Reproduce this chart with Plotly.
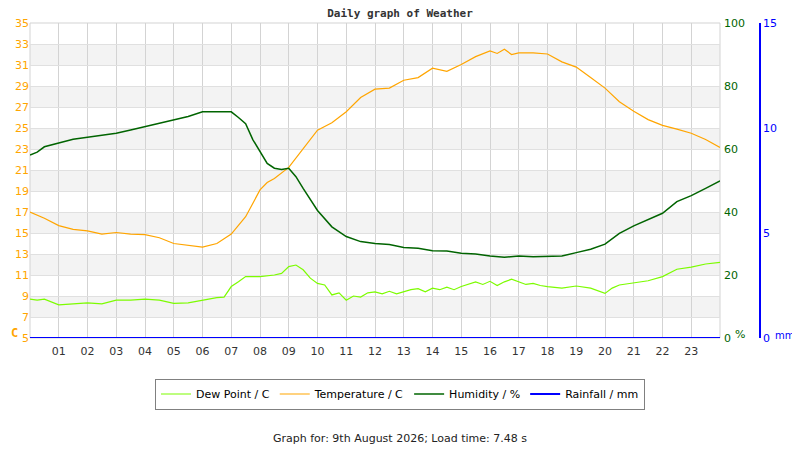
import plotly.graph_objects as go

# ---------------- data ----------------
hour_ticks = list(range(1, 24))
hour_labels = ["%02d" % h for h in hour_ticks]

temp_h = [0, 0.5, 1, 1.5, 2, 2.5, 3, 3.5, 4, 4.5, 5, 5.5, 6, 6.5, 7, 7.5, 8, 8.25, 8.5, 9,
          9.5, 10, 10.5, 11, 11.5, 12, 12.5, 13, 13.5, 14, 14.5, 15, 15.5, 16, 16.25, 16.5, 16.75, 17, 17.5, 18,
          18.5, 19, 19.5, 20, 20.5, 21, 21.5, 22, 22.5, 23, 23.5, 24]
temperature = [17.0, 16.4, 15.7, 15.35, 15.2, 14.9, 15.05, 14.9, 14.85, 14.55, 14.0, 13.8, 13.65, 14.0, 14.9, 16.55, 19.1, 19.8, 20.2, 21.25,
               23.05, 24.8, 25.5, 26.55, 27.9, 28.7, 28.8, 29.55, 29.8, 30.7, 30.4, 31.05, 31.8, 32.35, 32.1, 32.5, 32.0, 32.15, 32.15, 32.05,
               31.3, 30.8, 29.8, 28.8, 27.5, 26.6, 25.8, 25.25, 24.9, 24.5, 23.9, 23.15]

dew_h = [0, 0.25, 0.5, 0.75, 1, 1.5, 2, 2.5, 3, 3.5, 4, 4.5, 5, 5.5, 6, 6.5,
         6.75, 7, 7.25, 7.5, 8, 8.5, 8.75, 9, 9.25, 9.5, 9.75, 10, 10.25, 10.5, 10.75,
         11, 11.25, 11.5, 11.75, 12, 12.25, 12.5, 12.75, 13, 13.25, 13.5, 13.75, 14, 14.25, 14.5, 14.75,
         15, 15.25, 15.5, 15.75, 16, 16.25, 16.5, 16.75, 17, 17.25, 17.5, 17.75, 18,
         18.5, 19, 19.5, 20, 20.25, 20.5, 21, 21.5, 22, 22.5, 23, 23.5, 24]
dew_point = [8.7, 8.6, 8.7, 8.45, 8.15, 8.25, 8.35, 8.25, 8.6, 8.6, 8.7, 8.6, 8.3, 8.35, 8.6, 8.85,
             8.9, 9.9, 10.35, 10.85, 10.85, 11.0, 11.15, 11.8, 11.95, 11.5, 10.7, 10.2, 10.05, 9.1, 9.3,
             8.6, 9.0, 8.9, 9.3, 9.4, 9.2, 9.45, 9.2, 9.4, 9.6, 9.7, 9.4, 9.75, 9.6, 9.85, 9.6,
             9.9, 10.1, 10.35, 10.1, 10.4, 10.0, 10.35, 10.6, 10.35, 10.1, 10.2, 10.0, 9.9,
             9.75, 9.95, 9.75, 9.25, 9.75, 10.05, 10.25, 10.45, 10.85, 11.55, 11.75, 12.05, 12.2]

hum_h = [0, 0.25, 0.5, 1, 1.5, 2, 2.5, 3, 3.5, 4, 4.5, 5, 5.5, 6, 6.5, 7, 7.25, 7.5, 7.75, 8,
         8.25, 8.5, 8.75, 9, 9.25, 9.5, 9.75, 10, 10.5, 11, 11.5, 12, 12.5, 13, 13.5, 14, 14.5, 15, 15.5, 16,
         16.5, 17, 17.5, 18, 18.5, 19, 19.5, 20, 20.5, 21, 21.5, 22, 22.5, 23, 23.5, 24]
humidity = [58.1, 59.0, 60.7, 61.8, 63.1, 63.7, 64.4, 65.0, 66.0, 67.1, 68.1, 69.2, 70.3, 71.8, 71.8, 71.8, 70.0, 68.0, 63.0, 59.1,
            55.4, 53.9, 53.5, 53.9, 51.2, 47.5, 44.0, 40.5, 35.3, 32.2, 30.6, 30.0, 29.7, 28.7, 28.5, 27.7, 27.6, 26.9, 26.7, 26.0,
            25.6, 26.0, 25.8, 25.8, 26.0, 27.1, 28.2, 29.8, 33.2, 35.6, 37.5, 39.6, 43.3, 45.2, 47.5, 49.9]

rain_h = [0, 24]
rainfall = [0, 0]

# ---------------- figure ----------------
ORANGE = "#FFA500"
LGREEN = "#7CFC00"
DGREEN = "#006400"
BLUE = "#0000FF"
FONT = "DejaVu Sans"

fig = go.Figure()
fig.add_trace(go.Scatter(x=dew_h, y=dew_point, mode="lines", name="Dew Point / C",
                         line=dict(color=LGREEN, width=1.2), yaxis="y"))
fig.add_trace(go.Scatter(x=temp_h, y=temperature, mode="lines", name="Temperature / C",
                         line=dict(color=ORANGE, width=1.2), yaxis="y"))
fig.add_trace(go.Scatter(x=hum_h, y=humidity, mode="lines", name="Humidity / %",
                         line=dict(color=DGREEN, width=1.5), yaxis="y2"))
fig.add_trace(go.Scatter(x=rain_h, y=rainfall, mode="lines", name="Rainfall / mm",
                         line=dict(color=BLUE, width=2.2), yaxis="y3", cliponaxis=False))

# alternating grey bands
shapes = []
for lo in range(7, 35, 4):
    shapes.append(dict(type="rect", xref="x domain", x0=0, x1=1, yref="y", y0=lo, y1=lo + 2,
                       fillcolor="#F3F3F3", line=dict(width=0), layer="below"))
# plot frame
shapes.append(dict(type="rect", xref="x domain", x0=0, x1=1, yref="y domain", y0=0, y1=1,
                   line=dict(color="#D3D3D3", width=1), layer="below"))

# page body has an 8px margin: work in screen pixels, convert to figure pixels
OFF = 8
W, H = 800 - OFF, 450 - OFF
PL, PR, PT, PB = 30, 720, 23, 338          # plot area in screen px
L, T = PL - OFF, PT - OFF
B = H - (PB - OFF)
R = 20
pw = W - L - R
ph = H - T - B
x_end = (PR - PL) / pw


def px(sx):
    return (sx - PL) / pw


def py(sy):
    return (PB - sy) / ph


fig.update_layout(
    width=W, height=H,
    margin=dict(l=L, r=R, t=T, b=B, pad=0, autoexpand=False),
    paper_bgcolor="white", plot_bgcolor="white",
    font=dict(family=FONT, size=11, color="#333333"),
    title=dict(text="<b>Daily graph of Weather</b>", x=(400 - OFF) / W, xanchor="center",
               y=1 - (13 - OFF) / H, yanchor="middle",
               font=dict(family="DejaVu Sans Mono", size=11, color="#333333")),
    xaxis=dict(domain=[0, x_end], range=[0, 24], tickvals=hour_ticks, ticktext=hour_labels,
               showgrid=True, gridcolor="#D3D3D3", gridwidth=1, zeroline=False, showline=False,
               ticks="", ticklabelstandoff=5,
               tickfont=dict(family=FONT, size=11, color="#333333"), fixedrange=True),
    yaxis=dict(range=[5, 35], dtick=2, tick0=5, showgrid=True, gridcolor="#E0E0E0", gridwidth=1,
               zeroline=False, showline=False, ticks="",
               tickfont=dict(family=FONT, size=11, color=ORANGE)),
    yaxis2=dict(range=[0, 100], dtick=20, overlaying="y", side="right", anchor="x",
                showgrid=False, zeroline=False, showline=False, ticks="", ticklabelstandoff=3,
                tickfont=dict(family=FONT, size=11, color=DGREEN)),
    yaxis3=dict(range=[0, 15], dtick=5, overlaying="y", side="right", anchor="free", position=px(760),
                showgrid=False, zeroline=False, showline=True, linecolor=BLUE, linewidth=1.5, ticks="",
                tickfont=dict(family=FONT, size=11, color=BLUE)),
    shapes=shapes,
    legend=dict(orientation="h", x=px(400), xanchor="center", y=py(394), yanchor="middle",
                bordercolor="#808080", borderwidth=1, bgcolor="white",
                font=dict(family=FONT, size=11, color="#000000"), itemwidth=30),
    showlegend=True,
)

fig.add_annotation(text="<b>C</b>", xref="paper", yref="paper", x=px(9), y=py(333),
                   xanchor="left", yanchor="middle", showarrow=False,
                   font=dict(family="DejaVu Sans Mono", size=12, color=ORANGE))
fig.add_annotation(text="%", xref="paper", yref="paper", x=px(740), y=py(334),
                   xanchor="center", yanchor="middle", showarrow=False,
                   font=dict(family=FONT, size=11, color=DGREEN))
fig.add_annotation(text="mm", xref="paper", yref="paper", x=px(774), y=py(335),
                   xanchor="left", yanchor="middle", showarrow=False, borderpad=0,
                   font=dict(family=FONT, size=10, color=BLUE))
fig.add_annotation(text="Graph for: 9th August 2026; Load time: 7.48 s", xref="paper", yref="paper",
                   x=px(400), y=py(438), xanchor="center", yanchor="middle", showarrow=False,
                   font=dict(family=FONT, size=11, color="#222222"))

fig.write_html("out.html")
